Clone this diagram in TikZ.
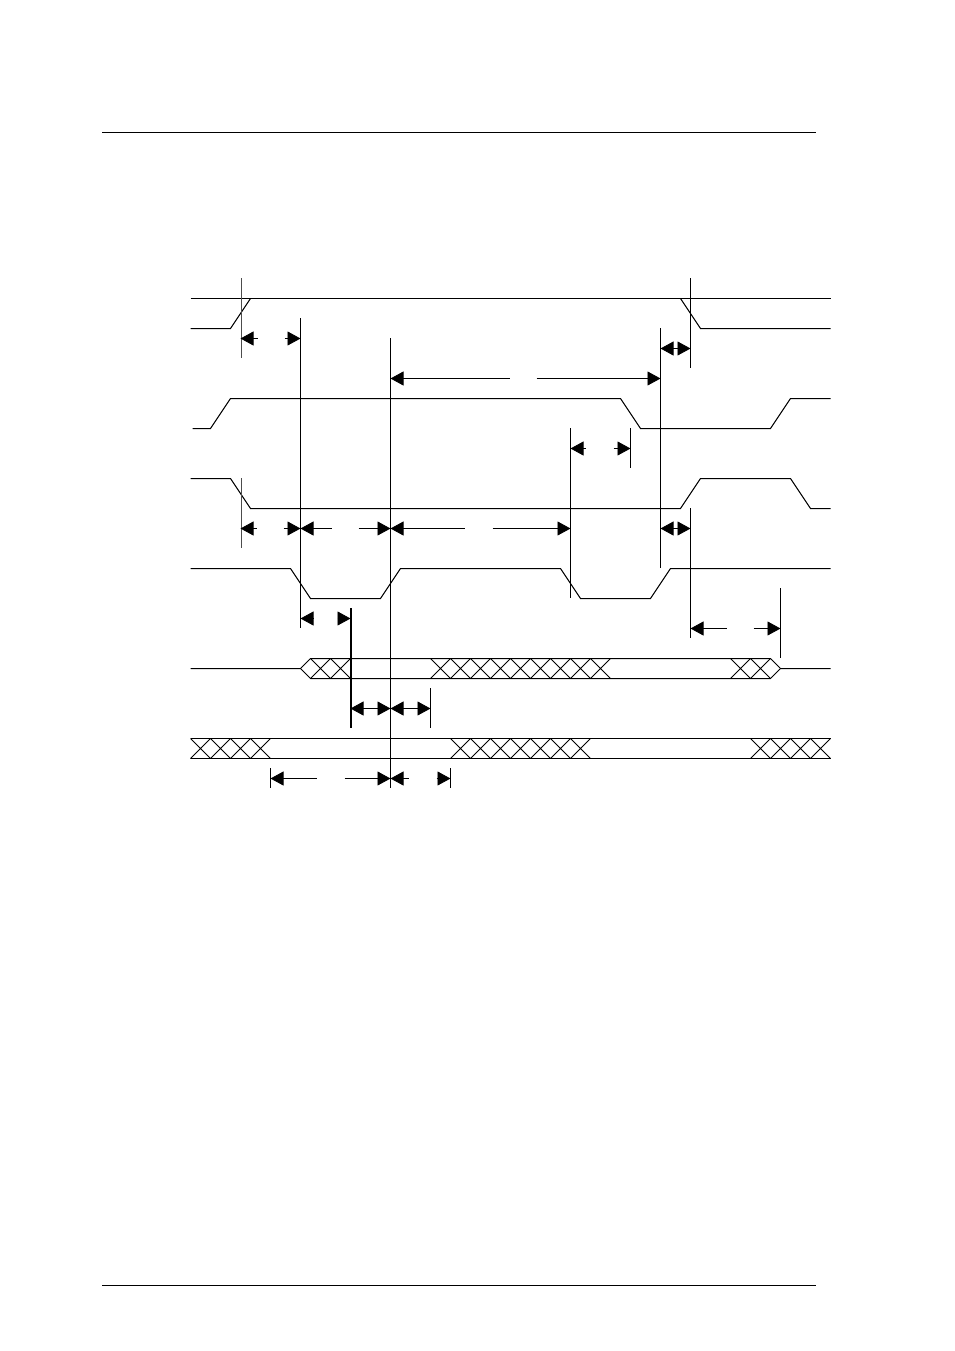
\documentclass[tikz,border=0pt]{standalone}
\usetikzlibrary{arrows.meta}
\tikzstyle{wave} = [line width=1pt, line join=miter]
\tikzstyle{guide} = [line width=1pt]
\tikzstyle{thickguide} = [line width=2pt]
\tikzstyle{rule} = [line width=1pt]
\tikzstyle{arrow} = [line width=0.8pt, {Triangle[length=13pt,width=14pt]}-{Triangle[length=13pt,width=14pt]}]
\tikzstyle{leftarrow} = [line width=0.8pt, {Triangle[length=13pt,width=14pt]}-]
\tikzstyle{rightarrow} = [line width=0.8pt, -{Triangle[length=13pt,width=14pt]}]

\begin{document}
\begin{tikzpicture}[x=1pt, y=-1pt]
    \useasboundingbox (0,0) rectangle (954,1351);

    % Page rules
    \draw[rule] (102,132.5) -- (816,132.5);
    \draw[rule] (102,1285.5) -- (816,1285.5);

    \begin{scope}[xshift=-0.5pt]
    % Waves
    \draw[wave] (191,298.5) -- (831,298.5);
    \draw[wave] (191,328.5) -- (231,328.5) -- (251,298.5);
    \draw[wave] (681,298.5) -- (701,328.5) -- (831,328.5);
    \draw[wave] (193,428.5) -- (211,428.5) -- (231,398.5) -- (621,398.5) -- (641,428.5)
        -- (771,428.5) -- (791,398.5) -- (831,398.5);
    \draw[wave] (191,478.5) -- (231,478.5) -- (251,508.5) -- (681,508.5) -- (701,478.5)
        -- (791,478.5) -- (811,508.5) -- (831,508.5);
    \draw[wave] (191,568.5) -- (291,568.5) -- (311,598.5) -- (381,598.5) -- (401,568.5)
        -- (561,568.5) -- (581,598.5) -- (651,598.5) -- (671,568.5) -- (831,568.5);

    % Bus lines
    \draw[wave] (191,668.5) -- (301,668.5) -- (311,658.5) -- (771,658.5) -- (781,668.5) -- (831,668.5);
    \draw[wave] (301,668.5) -- (311,678.5) -- (771,678.5) -- (781,668.5);
    \draw[wave] (191,738.5) -- (831,738.5);
    \draw[wave] (191,758.5) -- (831,758.5);
    \foreach \x in {311,331,431,451,471,491,511,531,551,571,591,731,751}
        \draw[wave] (\x,658.5) -- (\x+20,678.5) (\x+20,658.5) -- (\x,678.5);
    \foreach \x in {191,211,231,251,451,471,491,511,531,551,571,751,771,791,811}
        \draw[wave] (\x,738.5) -- (\x+20,758.5) (\x+20,738.5) -- (\x,758.5);

    % Guides
    \draw[guide, black!70] (241.5,278) -- (241.5,358);
    \draw[guide, black!70] (241.5,478) -- (241.5,548);
    \draw[guide] (301,318) -- (301,628);
    \draw[guide] (391,338) -- (391,788);
    \draw[thickguide] (351.5,608) -- (351.5,728);
    \draw[guide] (431,688) -- (431,728);
    \draw[guide] (271,768) -- (271,788);
    \draw[guide] (451,768) -- (451,788);
    \draw[guide] (571,428) -- (571,598);
    \draw[guide] (631,428) -- (631,468);
    \draw[guide] (661,328) -- (661,568);
    \draw[guide] (691,278) -- (691,368);
    \draw[guide] (691,508) -- (691,638);
    \draw[guide] (781,588) -- (781,658);

    % Arrows
    \draw[arrow] (661,348.5) -- (691,348.5);
    \draw[arrow] (661,528.5) -- (691,528.5);
    \draw[arrow] (351,708.5) -- (391,708.5);
    \draw[arrow] (391,708.5) -- (431,708.5);

    \foreach \from/\to/\y in {241/258/338.5, 391/510/378.5, 571/586/448.5, 241/257/528.5,
        301/332/528.5, 391/465/528.5, 301/314/618.5, 691/727/628.5, 271/317/778.5, 391/409/778.5}
        \draw[leftarrow] (\from,\y) -- (\to,\y);
    \foreach \from/\to/\y in {285/301/338.5, 537/661/378.5, 614/631/448.5, 284/301/528.5,
        359/391/528.5, 493/571/528.5, 338/351/618.5, 754/781/628.5, 345/391/778.5, 437/451/778.5}
        \draw[rightarrow] (\from,\y) -- (\to,\y);
    \end{scope}
\end{tikzpicture}
\end{document}
